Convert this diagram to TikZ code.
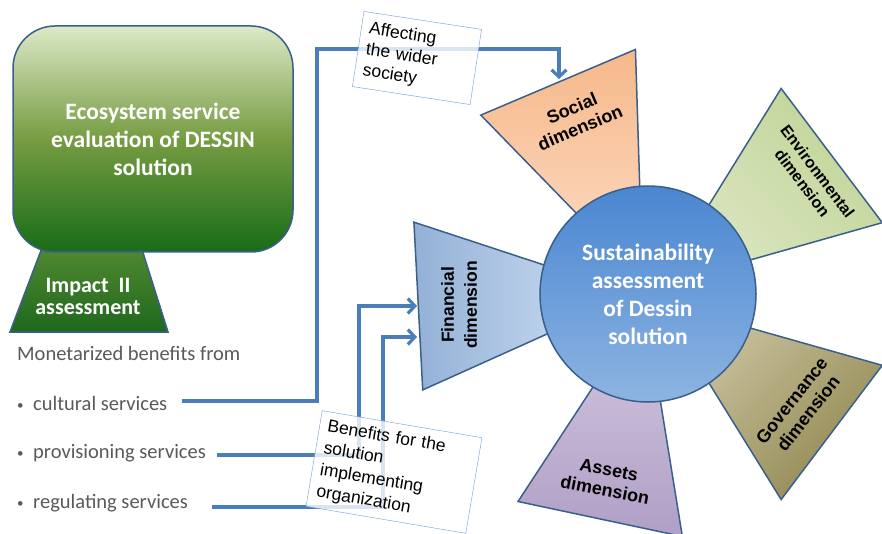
\documentclass[tikz,border=0pt]{standalone}
\usepackage{fontspec}
\setmainfont{Carlito}
\newfontfamily\arial{Liberation Sans}
\usetikzlibrary{arrows.meta,calc}

\definecolor{linkblue}{RGB}{74,126,187}
\definecolor{edgeblue}{RGB}{58,95,139}
\definecolor{boxblue}{RGB}{110,155,212}
\definecolor{txtgray}{RGB}{89,89,89}
\definecolor{socA}{RGB}{246,184,138}
\definecolor{socB}{RGB}{252,216,190}
\definecolor{envA}{RGB}{192,212,150}
\definecolor{envB}{RGB}{218,229,192}
\definecolor{govA}{RGB}{199,192,155}
\definecolor{govB}{RGB}{146,136,82}
\definecolor{assA}{RGB}{206,194,220}
\definecolor{assB}{RGB}{176,159,198}
\definecolor{finA}{RGB}{147,177,214}
\definecolor{finB}{RGB}{200,218,240}
\definecolor{cirA}{RGB}{74,134,208}
\definecolor{cirB}{RGB}{141,180,226}
\definecolor{ecoA}{RGB}{221,233,200}
\definecolor{ecoM}{RGB}{118,156,66}
\definecolor{ecoB}{RGB}{24,108,24}
\definecolor{impA}{RGB}{86,140,50}
\definecolor{impB}{RGB}{30,104,30}

\newcommand{\itemdot}{\makebox[16pt][l]{\raisebox{1pt}{\fontsize{13}{13}\selectfont\textbullet}}}

\begin{document}
\begin{tikzpicture}[x=1pt, y=-1pt,
        petal/.style={draw=edgeblue, line width=1.5pt},
        dimlabel/.style={font=\arial\bfseries\fontsize{18}{21}\selectfont, align=center},
        item/.style={anchor=west, inner sep=0pt, text=txtgray, font=\fontsize{20.5}{24}\selectfont},
        link/.style={draw=linkblue, line width=3.2pt},
        tip/.style={-{Straight Barb[length=7pt,width=15pt]}},
        tag/.style={draw=boxblue, fill=white, fill opacity=0.8, text opacity=1, inner xsep=8pt,
                font=\arial\fontsize{17.5}{21}\selectfont, align=left}]
        \useasboundingbox (0,0) rectangle (882,534);

        % five dimensions round the circle
        \coordinate (c) at (648,294);
        \foreach \ang/\cl/\sa in {-113/soc/0, -37/env/-45, 37/gov/45, 102/ass/0, 177/fin/90}
                \draw[petal, top color=\cl A, bottom color=\cl B, shading angle=\sa]
                        ($(c)+(\ang:60)+(\ang+90:18)$) -- ($(c)+(\ang:230)+(\ang+90:84)$)
                        -- ($(c)+(\ang:230)+(\ang-90:84)$) -- ($(c)+(\ang:60)+(\ang-90:18)$) -- cycle;

        \node[dimlabel, rotate=23] (social) at (576,118) {Social\\dimension};
        \node[dimlabel, rotate=-53, font=\arial\bfseries\fontsize{16}{19}\selectfont] (environ) at (810,177)
                {Environmental\\dimension};
        \node[dimlabel, rotate=52] (govern) at (800,407) {Governance\\dimension};
        \node[dimlabel, rotate=-11] (assets) at (607,480) {Assets\\dimension};
        \node[dimlabel, rotate=90, font=\arial\bfseries\fontsize{17.5}{23}\selectfont] (financial) at (459,305)
                {Financial\\dimension};

        \node[circle, draw=edgeblue, line width=1.5pt, minimum size=216, top color=cirA, bottom color=cirB,
                text=white, font=\bfseries\fontsize{23.5}{28}\selectfont, align=center] (sust) at (c)
                {Sustainability\\assessment\\of Dessin\\solution};

        % ecosystem service block
        \draw[draw=edgeblue, line width=1.5pt, top color=impA, bottom color=impB]
                (45,240) -- (139,240) -- (168,332) -- (10,332) -- cycle;
        \node[text=white, font=\bfseries\fontsize{22}{22}\selectfont, align=center] (impact) at (88,296)
                {Impact~~II\\assessment};
        \node[draw=edgeblue, line width=1.5pt, rounded corners=42, minimum width=280, minimum height=226,
                top color=ecoA, bottom color=ecoB, middle color=ecoM,
                text=white, font=\bfseries\fontsize{23.5}{28}\selectfont, align=center] (eco) at (153,139)
                {Ecosystem service\\evaluation of DESSIN\\solution};

        \node[item] (mon) at (17,353) {Monetarized benefits from};
        \node[item] (cult) at (17,403) {\itemdot cultural services};
        \node[item] (prov) at (17,453) {\itemdot provisioning services};
        \node[item] (reg) at (17,503) {\itemdot regulating services};

        % connectors
        \coordinate (socin) at (559,79);
        \coordinate (finhi) at (417,306);
        \coordinate (finlo) at (417,337);
        \draw[link, tip] ([xshift=15pt,yshift=2pt]cult.east) -| (317,49) -| (socin);
        \draw[link, tip] ([xshift=11pt,yshift=-2pt]prov.east) -| (359,306) -- (finhi);
        \draw[link, tip] ([xshift=24pt,yshift=-4pt]reg.east) -| (383,337) -- (finlo);

        \node[tag, rotate=-8.7, text width=103, minimum height=76] (affect) at (417,58)
                {Affecting\\the wider\\society};
        \node[tag, rotate=-9.6, text width=146, minimum height=97, font=\arial\fontsize{17.5}{22}\selectfont]
                (benefit) at (394,472) {Benefits for the\\solution\\implementing\\organization};
\end{tikzpicture}
\end{document}
